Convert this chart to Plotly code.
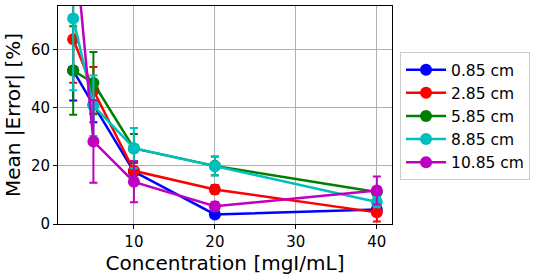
import plotly.graph_objects as go

concentration = [2.5, 5, 10, 20, 40]
series_names = ["0.85 cm", "2.85 cm", "5.85 cm", "8.85 cm", "10.85 cm"]
colors = ["#0000ff", "#ff0000", "#008000", "#00bfbf", "#bf00bf"]

err_085 = [52.8, 41.0, 18.0, 3.3, 5.0]
err_285 = [63.6, 46.0, 18.3, 11.9, 4.0]
err_585 = [52.8, 48.5, 26.0, 20.0, 11.0]
err_885 = [70.7, 40.7, 26.1, 19.9, 7.6]
err_1085 = [103.0, 28.4, 14.5, 6.1, 11.5]

sd_085 = [10.3, 6.0, 3.5, 1.0, 1.5]
sd_285 = [15.0, 8.0, 3.3, 1.5, 3.1]
sd_585 = [15.2, 10.7, 5.0, 3.2, 1.5]
sd_885 = [24.7, 10.4, 6.9, 3.2, 1.8]
sd_1085 = [20.0, 14.2, 7.0, 1.5, 4.8]

means = [err_085, err_285, err_585, err_885, err_1085]
sds = [sd_085, sd_285, sd_585, sd_885, sd_1085]

FONT = "DejaVu Sans"

fig = go.Figure()
for name, color, m, s in zip(series_names, colors, means, sds):
    fig.add_trace(go.Scatter(
        x=concentration, y=m, name=name, mode="lines+markers",
        line=dict(color=color, width=2.5),
        marker=dict(color=color, size=12),
        error_y=dict(type="data", array=s, visible=True, color=color,
                     thickness=2, width=4),
    ))

fig.update_layout(
    width=539, height=276,
    margin=dict(l=58, r=147, t=6, b=52),
    paper_bgcolor="white", plot_bgcolor="white",
    font=dict(family=FONT, color="black"),
    showlegend=True,
    legend=dict(
        x=1.024, y=0.495, xanchor="left", yanchor="middle",
        font=dict(family=FONT, size=15.5, color="black"),
        bordercolor="#cccccc", borderwidth=1, bgcolor="white",
        itemwidth=40, tracegroupgap=0,
    ),
    xaxis=dict(
        range=[0.625, 41.875], tickvals=[10, 20, 30, 40],
        showgrid=True, gridcolor="#b0b0b0", gridwidth=1,
        showline=True, linecolor="black", linewidth=1, mirror=True,
        ticks="outside", ticklen=4, tickcolor="black",
        tickfont=dict(family=FONT, size=15),
        title=dict(text="Concentration [mgI/mL]", font=dict(family=FONT, size=20), standoff=0),
        zeroline=False,
    ),
    yaxis=dict(
        range=[0, 75], tickvals=[0, 20, 40, 60],
        showgrid=True, gridcolor="#b0b0b0", gridwidth=1,
        showline=True, linecolor="black", linewidth=1, mirror=True,
        ticks="outside", ticklen=4, tickcolor="black",
        tickfont=dict(family=FONT, size=15),
        title=dict(text="Mean |Error| [%]", font=dict(family=FONT, size=20), standoff=4),
        zeroline=False,
    ),
)

fig.write_html("out.html", config={"displayModeBar": False},
               post_script="document.body.style.margin='0';")
